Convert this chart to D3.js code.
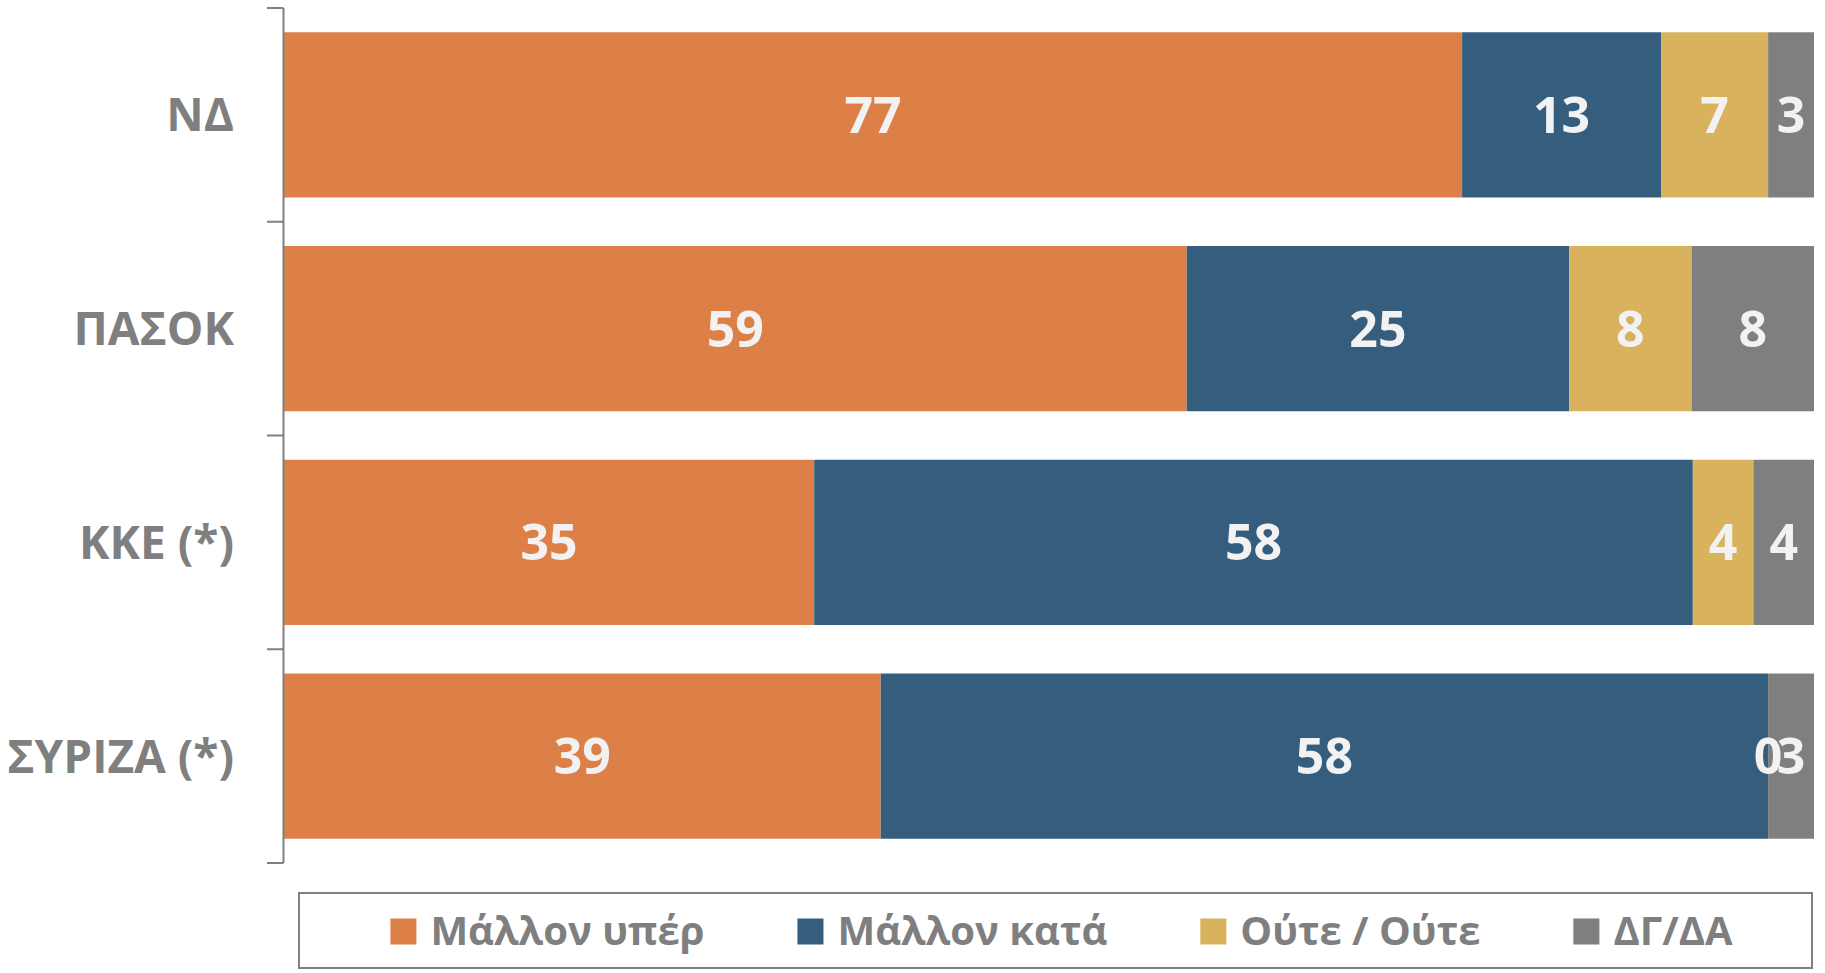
<!DOCTYPE html>
<html>
<head>
<meta charset="utf-8">
<script src="https://cdn.jsdelivr.net/npm/d3@7"></script>
<style>
	body { margin: 0; background: #fff; }
	text { font-family: "Open Sans", "Noto Sans", sans-serif; font-weight: bold; }
</style>
</head>
<body>
<div id="chart"></div>
<script>
// Data
const parties = ["ΝΔ", "ΠΑΣΟΚ", "ΚΚΕ (*)", "ΣΥΡΙΖΑ (*)"];
const seriesNames = ["Μάλλον υπέρ", "Μάλλον κατά", "Ούτε / Ούτε", "ΔΓ/ΔΑ"];
const favour = [77, 59, 35, 39];
const against = [13, 25, 58, 58];
const neither = [7, 8, 4, 0];
const dontKnow = [3, 8, 4, 3];

const cfg = {
	w: 1825,
	h: 973,
	margin: {top: 8, right: 11, bottom: 110, left: 284},
	colors: d3.scaleOrdinal().domain(seriesNames).range(["#DD8047", "#355D7E", "#D8B25C", "#7F7F7F"]),
	axisColor: "#808080",
	labelColor: "#7F7F7F",
	valueColor: "#F2F2F2"
};

const width = cfg.w - cfg.margin.left - cfg.margin.right,
	height = cfg.h - cfg.margin.top - cfg.margin.bottom;

// one row per party, values as 100% stacked shares
const rows = parties.map((p, i) => {
	const vals = [favour[i], against[i], neither[i], dontKnow[i]];
	const r = {party: p, total: d3.sum(vals)};
	seriesNames.forEach((s, j) => { r[s] = vals[j]; });
	return r;
});

const stack = d3.stack()
	.keys(seriesNames)
	.value((d, key) => d[key] / d.total * 100);
const layers = stack(rows);

const xScale = d3.scaleLinear().domain([0, 100]).range([0, width]);
const yScale = d3.scaleBand()
	.domain(parties)
	.range([0, height])
	.paddingInner(0.227)
	.paddingOuter(0.1135);

const svg = d3.select("#chart").append("svg")
	.attr("width", cfg.w)
	.attr("height", cfg.h);

const g = svg.append("g")
	.attr("transform", `translate(${cfg.margin.left},${cfg.margin.top})`);

/////////////////////// Bars ///////////////////////
const layer = g.selectAll(".layer")
	.data(layers)
	.enter().append("g")
	.attr("class", "layer")
	.attr("fill", d => cfg.colors(d.key));

layer.selectAll("rect")
	.data(d => d)
	.enter().append("rect")
	.attr("x", d => xScale(d[0]))
	.attr("y", d => yScale(d.data.party))
	.attr("width", d => xScale(d[1]) - xScale(d[0]))
	.attr("height", yScale.bandwidth());

// value labels (also for 0, like the original)
layers.forEach(l => {
	g.selectAll(null)
		.data(l)
		.enter().append("text")
		.attr("x", d => (xScale(d[0]) + xScale(d[1])) / 2)
		.attr("y", d => yScale(d.data.party) + yScale.bandwidth() / 2)
		.attr("dy", "0.36em")
		.attr("text-anchor", "middle")
		.attr("fill", cfg.valueColor)
		.style("font-size", "50px")
		.text(d => d.data[l.key]);
});

/////////////////////// Y axis ///////////////////////
const yAxis = d3.axisLeft(yScale).tickSize(0).tickPadding(50);
const axisG = g.append("g").attr("class", "y axis").call(yAxis);
axisG.select(".domain").remove();
axisG.selectAll(".tick text")
	.attr("fill", cfg.labelColor)
	.style("font-size", "46px")
	.attr("dy", "0.36em");

// axis line with ticks between the categories
const bounds = d3.range(parties.length + 1).map(i => i * height / parties.length);
g.append("line")
	.attr("x1", -0.5).attr("x2", -0.5)
	.attr("y1", 0).attr("y2", height)
	.attr("stroke", cfg.axisColor)
	.attr("stroke-width", 2);
g.selectAll(".cat-tick")
	.data(bounds)
	.enter().append("line")
	.attr("class", "cat-tick")
	.attr("x1", -17).attr("x2", -0.5)
	.attr("y1", d => d).attr("y2", d => d)
	.attr("stroke", cfg.axisColor)
	.attr("stroke-width", 2);

/////////////////////// Legend ///////////////////////
const box = {x: 299, y: 893, w: 1513, h: 75};
const legend = svg.append("g").attr("class", "legend");
legend.append("rect")
	.attr("x", box.x).attr("y", box.y)
	.attr("width", box.w).attr("height", box.h)
	.attr("fill", "none")
	.attr("stroke", cfg.axisColor)
	.attr("stroke-width", 2);

const sw = 26, swGap = 14, itemGap = 93;
const items = legend.selectAll(".item")
	.data(seriesNames)
	.enter().append("g")
	.attr("class", "item");
items.append("rect")
	.attr("width", sw).attr("height", sw)
	.attr("y", box.y + box.h / 2 - sw / 2 + 1)
	.attr("fill", d => cfg.colors(d));
items.append("text")
	.attr("x", sw + swGap)
	.attr("y", box.y + box.h / 2)
	.attr("dy", "0.36em")
	.attr("fill", cfg.labelColor)
	.style("font-size", "40px")
	.text(d => d);

// place items side by side, centred in the box
const widths = [];
items.each(function() { widths.push(sw + swGap + d3.select(this).select("text").node().getComputedTextLength()); });
const total = d3.sum(widths) + itemGap * (widths.length - 1);
let cx = box.x + (box.w - total) / 2 + 6;
items.each(function(d, i) {
	d3.select(this).attr("transform", `translate(${cx},0)`);
	cx += widths[i] + itemGap;
});
</script>
</body>
</html>
